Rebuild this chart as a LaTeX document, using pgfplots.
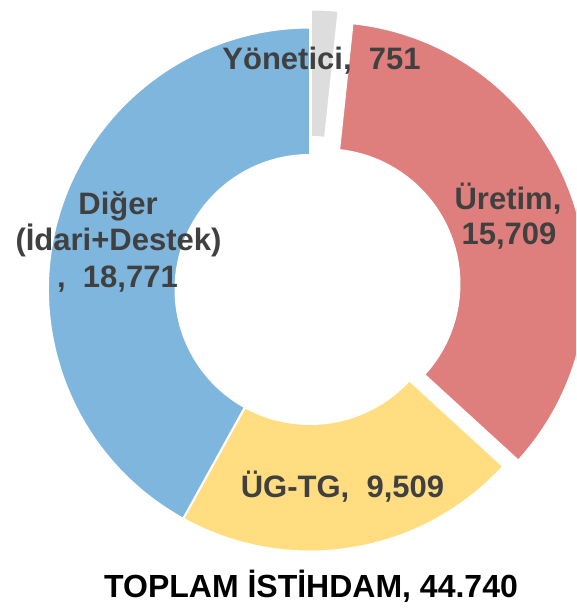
\documentclass[border=0pt]{standalone}
\usepackage{pgfplots}
\pgfplotsset{compat=1.18}
\usepackage{pgfplotstable}
\usepackage{fontspec}
\setmainfont{Liberation Sans}
\definecolor{cGray}{HTML}{DDDDDD}
\definecolor{cRed}{HTML}{DF7F7D}
\definecolor{cYellow}{HTML}{FFDD80}
\definecolor{cBlue}{HTML}{7FB6DE}
\definecolor{cText}{HTML}{404040}

\pgfplotstableread{
name value explode
Yonetici 751 18
Uretim 15709 16
UGTG 9509 0
Diger 18771 0
}\slices

\newcommand\donutslice[4]{%
  \fill[#4, draw=white, line width=2pt]
    ([shift={({(#1+#2)/2}:#3pt)}]axis cs:310,323.5) ++(#1:262pt)
    arc[start angle=#1, end angle=#2, radius=262pt]
    -- ++({#2+180}:127.5pt)
    arc[start angle=#2, end angle=#1, radius=134.5pt] -- cycle;
}

\begin{document}
\begin{tikzpicture}
\useasboundingbox (0,0) rectangle (576pt,613pt);
\pgfplotstablegetelem{0}{value}\of\slices \let\vA\pgfplotsretval
\pgfplotstablegetelem{1}{value}\of\slices \let\vB\pgfplotsretval
\pgfplotstablegetelem{2}{value}\of\slices \let\vC\pgfplotsretval
\pgfplotstablegetelem{3}{value}\of\slices \let\vD\pgfplotsretval
\pgfplotstablegetelem{0}{explode}\of\slices \let\eA\pgfplotsretval
\pgfplotstablegetelem{1}{explode}\of\slices \let\eB\pgfplotsretval
\pgfplotstablegetelem{2}{explode}\of\slices \let\eC\pgfplotsretval
\pgfplotstablegetelem{3}{explode}\of\slices \let\eD\pgfplotsretval
\edef\total{\fpeval{\vA+\vB+\vC+\vD}}
\edef\aA{90}
\edef\aB{\fpeval{round(\aA-360*\vA/\total,4)}}
\edef\aC{\fpeval{round(\aB-360*\vB/\total,4)}}
\edef\aD{\fpeval{round(\aC-360*\vC/\total,4)}}
\edef\aE{\fpeval{round(\aD-360*\vD/\total,4)}}
\begin{axis}[x=1pt, y=1pt, xmin=0, xmax=576, ymin=0, ymax=613,
  hide axis, anchor=south west, at={(0,0)}]
\addplot[draw=none, forget plot] coordinates {(0,0) (576,613)};
\donutslice{\aA}{\aB}{\eA}{cGray}
\donutslice{\aB}{\aC}{\eB}{cRed}
\donutslice{\aC}{\aD}{\eC}{cYellow}
\donutslice{\aD}{\aE}{\eD}{cBlue}
\tikzset{lab/.style={font=\bfseries\fontsize{31}{35}\selectfont, text=cText, anchor=base, inner sep=0pt}}
\node[lab] at (axis cs:321.5,543) {Yönetici,\ \ 751};
\node[lab] at (axis cs:508,403) {Üretim,};
\node[lab] at (axis cs:509,368) {15,709};
\node[lab] at (axis cs:342.5,115) {ÜG-TG,\ \ 9,509};
\node[lab] at (axis cs:118,398) {Diğer};
\node[lab] at (axis cs:118.5,362) {(İdari+Destek)};
\node[lab] at (axis cs:117.5,325) {,\ \ 18,771};
\node[font=\bfseries\fontsize{32}{36}\selectfont, text=black, anchor=base, inner sep=0pt] at (axis cs:311,16) {TOPLAM İSTİHDAM, 44.740};
\end{axis}
\end{tikzpicture}
\end{document}
